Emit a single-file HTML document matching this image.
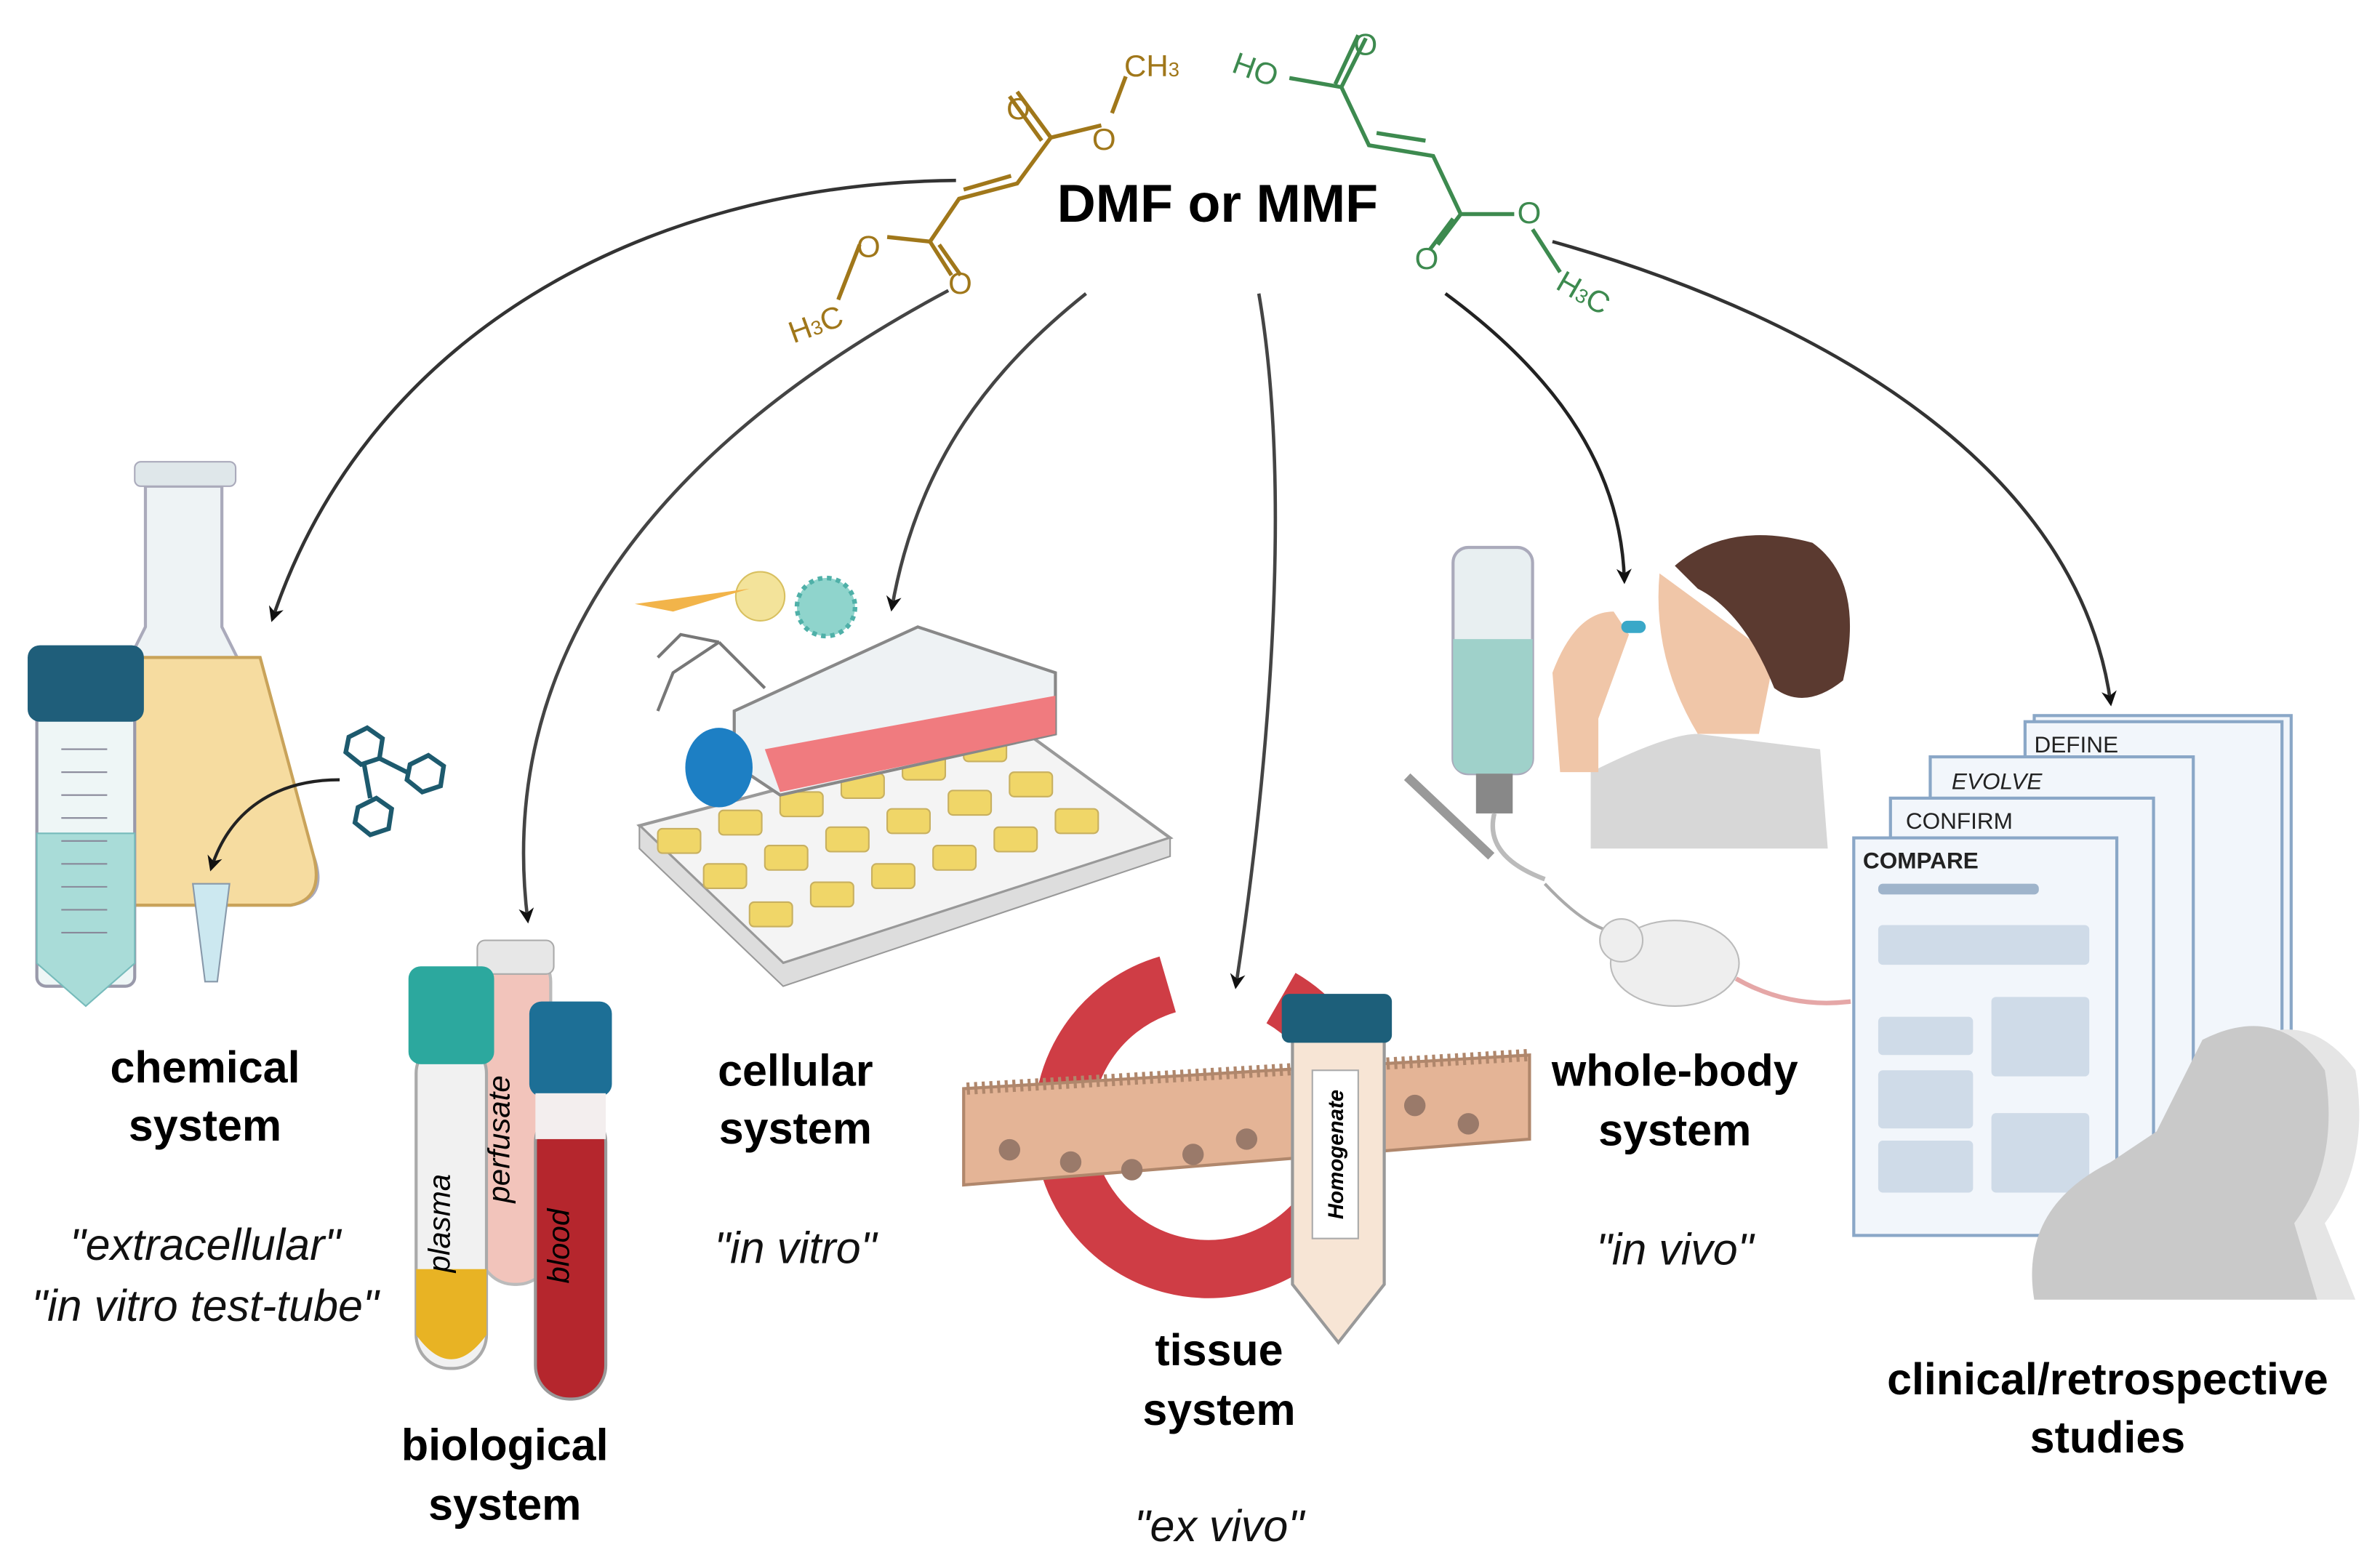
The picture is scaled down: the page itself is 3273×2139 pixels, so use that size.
<!DOCTYPE html>
<html><head><meta charset="utf-8"><style>
html,body{margin:0;padding:0;background:#fff;}
svg{display:block;}
text{font-family:"Liberation Sans",Arial,sans-serif;}
.lab{font-weight:bold;font-size:29px;fill:#000;text-anchor:middle;}
.it{font-style:italic;font-size:29px;fill:#111;text-anchor:middle;}
</style></head><body>
<svg width="3273" height="2139" viewBox="0 0 1556 1017" xmlns="http://www.w3.org/2000/svg">
<defs>
<marker id="ah" markerWidth="10" markerHeight="10" refX="8" refY="5" orient="auto" markerUnits="userSpaceOnUse">
<path d="M0,0 L10,5 L0,10 L3,5 Z" fill="#111"/></marker>
</defs>
<g fill="none" stroke-width="2.2" marker-end="url(#ah)">
<path d="M625,118 C420,120 240,220 178,405" stroke="#333"/>
<path d="M620,190 C470,270 320,400 345,602" stroke="#444"/>
<path d="M710,192 C650,240 600,300 583,398" stroke="#444"/>
<path d="M823,192 C845,320 830,500 808,645" stroke="#444"/>
<path d="M945,192 C1010,240 1060,300 1062,380" stroke="#222"/>
<path d="M1015,158 C1200,210 1360,310 1380,460" stroke="#333"/>
</g>
<g stroke="#a0771a" stroke-width="2.6" fill="none">
<path d="M720,82 L687,90 L665,60 M681,92 L660,63"/>
<path d="M687,90 L665,120 L627,130 L608,158 L580,155"/>
<path d="M661,115 L630,124"/>
<path d="M608,158 L622,180 M614,160 L628,180"/>
<path d="M727,74 L736,50 M562,160 L548,196"/>
</g>
<g fill="#a0771a" font-size="20">
<text x="714" y="98">O</text><text x="658" y="78">O</text>
<text x="735" y="50">CH<tspan font-size="13">3</tspan></text>
<text x="560" y="168">O</text><text x="620" y="192">O</text>
<text x="515" y="220" transform="rotate(-20 530 212)">H<tspan font-size="13">3</tspan>C</text>
</g>
<g stroke="#3d8a4f" stroke-width="2.6" fill="none">
<path d="M843,51 L877,57 L893,25 M873,55 L888,23"/>
<path d="M877,57 L895,95 L937,102 L955,140 L990,140"/>
<path d="M900,87 L932,92"/>
<path d="M955,140 L940,160 M950,143 L935,163"/>
<path d="M1002,150 L1020,178"/>
</g>
<g fill="#3d8a4f" font-size="20">
<text x="806" y="52" transform="rotate(20 820 45)">HO</text><text x="885" y="36">O</text>
<text x="992" y="146">O</text><text x="925" y="176">O</text>
<text x="1018" y="198" transform="rotate(30 1035 190)">H<tspan font-size="13">3</tspan>C</text>
</g>
<text x="796" y="145" font-size="35" font-weight="bold" text-anchor="middle">DMF or MMF</text>

<path d="M95,318 L95,410 L80,440 L40,560 Q35,590 70,592 L190,592 Q215,588 205,560 L160,440 L145,410 L145,318 Z" fill="#eef3f5" stroke="#aab" stroke-width="2"/>
<path d="M72,430 L170,430 L205,560 Q212,588 190,592 L70,592 Q36,590 42,560 Z" fill="#f6dca0" stroke="#c9a35a" stroke-width="2"/>
<rect x="88" y="302" width="66" height="16" rx="4" fill="#dfe7ea" stroke="#aab"/>
<rect x="24" y="445" width="64" height="200" rx="6" fill="#eef6f6" stroke="#99a" stroke-width="2"/>
<path d="M24,545 L88,545 L88,630 L56,658 L24,630 Z" fill="#a9dcd8" stroke="#7bb" />
<rect x="18" y="422" width="76" height="50" rx="8" fill="#1f5e7a"/>
<g stroke="#889" stroke-width="1">
<path d="M40,490h30M40,505h30M40,520h30M40,535h30M40,550h30M40,565h30M40,580h30M40,595h30M40,610h30"/></g>
<path d="M126,578 L150,578 L142,642 L134,642 Z" fill="#cce8f0" stroke="#89a"/>
<path d="M222,510 C180,510 150,530 138,568" fill="none" stroke="#222" stroke-width="2" marker-end="url(#ah)"/>
<g stroke="#1d5a6e" stroke-width="3" fill="none">
<polygon points="228,482 240,476 250,483 248,496 236,500 226,492"/>
<polygon points="268,500 280,494 290,501 288,514 276,518 266,510"/>
<polygon points="234,528 246,522 256,529 254,542 242,546 232,538"/>
<path d="M248,496 L266,505 M242,522 L238,500"/>
</g>
<text class="lab" x="134" y="708">chemical</text>
<text class="lab" x="134" y="746">system</text>
<text class="it" x="134" y="824">"extracellular"</text>
<text class="it" x="134" y="864">"in vitro test-tube"</text>

<rect x="314" y="620" width="46" height="220" rx="22" fill="#f2c4bb" stroke="#bbb" stroke-width="2"/>
<rect x="312" y="615" width="50" height="22" rx="5" fill="#e7e7e7" stroke="#aaa"/>
<rect x="272" y="680" width="46" height="215" rx="22" fill="#f1f1f1" stroke="#aaa" stroke-width="2"/>
<path d="M272,830 L318,830 L318,873 Q295,905 272,873 Z" fill="#e8b324"/>
<rect x="267" y="632" width="56" height="64" rx="8" fill="#2ca89e"/>
<rect x="350" y="725" width="46" height="190" rx="22" fill="#b5262d" stroke="#999" stroke-width="2"/>
<rect x="346" y="655" width="54" height="62" rx="8" fill="#1d6f96"/>
<rect x="350" y="715" width="46" height="30" fill="#f3eeee"/>
<text x="294" y="800" font-size="20" font-style="italic" transform="rotate(-90 294 800)" text-anchor="middle">plasma</text>
<text x="333" y="745" font-size="20" font-style="italic" transform="rotate(-90 333 745)" text-anchor="middle">perfusate</text>
<text x="372" y="815" font-size="20" font-style="italic" transform="rotate(-90 372 815)" text-anchor="middle">blood</text>
<text class="lab" x="330" y="955">biological</text>
<text class="lab" x="330" y="994">system</text>

<path d="M418,540 L665,475 L765,548 L512,630 Z" fill="#f4f4f4" stroke="#999" stroke-width="2"/>
<path d="M418,540 L512,630 L765,548 L765,560 L512,645 L418,555 Z" fill="#ddd" stroke="#999"/>
<g fill="#f0d668" stroke="#c8b060">
<rect x="430" y="542" width="28" height="16" rx="3"/><rect x="460" y="565" width="28" height="16" rx="3"/><rect x="490" y="590" width="28" height="16" rx="3"/>
<rect x="470" y="530" width="28" height="16" rx="3"/><rect x="500" y="553" width="28" height="16" rx="3"/><rect x="530" y="577" width="28" height="16" rx="3"/>
<rect x="510" y="518" width="28" height="16" rx="3"/><rect x="540" y="541" width="28" height="16" rx="3"/><rect x="570" y="565" width="28" height="16" rx="3"/>
<rect x="550" y="506" width="28" height="16" rx="3"/><rect x="580" y="529" width="28" height="16" rx="3"/><rect x="610" y="553" width="28" height="16" rx="3"/>
<rect x="590" y="494" width="28" height="16" rx="3"/><rect x="620" y="517" width="28" height="16" rx="3"/><rect x="650" y="541" width="28" height="16" rx="3"/>
<rect x="630" y="482" width="28" height="16" rx="3"/><rect x="660" y="505" width="28" height="16" rx="3"/><rect x="690" y="529" width="28" height="16" rx="3"/>
</g>
<path d="M480,465 L600,410 L690,440 L690,480 L510,520 L480,500 Z" fill="#eef2f4" stroke="#888" stroke-width="2"/>
<path d="M500,490 L690,455 L690,480 L510,518 Z" fill="#f07b7f"/>
<ellipse cx="470" cy="502" rx="22" ry="26" fill="#1d7fc4"/>
<circle cx="497" cy="390" r="16" fill="#f3e39a" stroke="#d8c060"/>
<circle cx="540" cy="397" r="19" fill="#8fd4cc" stroke="#4fb0a8" stroke-width="3" stroke-dasharray="3 3"/>
<path d="M415,395 L490,385 L440,400 Z" fill="#f2b44a"/>
<path d="M470,420 L440,440 L430,465 M470,420 L500,450 M470,420 L445,415 L430,430" fill="none" stroke="#777" stroke-width="2"/>
<text class="lab" x="520" y="710">cellular</text>
<text class="lab" x="520" y="748">system</text>
<text class="it" x="520" y="826">"in vitro"</text>

<circle cx="790" cy="735" r="95" fill="none" stroke="#cf3d45" stroke-width="38" stroke-dasharray="520 80" transform="rotate(-60 790 735)"/>
<path d="M630,712 L1000,690 L1000,745 L630,775 Z" fill="#e4b496" stroke="#b0876c" stroke-width="2"/>
<path d="M632,712 L1000,690" stroke="#b0876c" stroke-width="8" stroke-dasharray="2 3"/>
<g fill="#9a7a6a"><circle cx="660" cy="752" r="7"/><circle cx="700" cy="760" r="7"/><circle cx="740" cy="765" r="7"/><circle cx="780" cy="755" r="7"/><circle cx="815" cy="745" r="7"/><circle cx="925" cy="723" r="7"/><circle cx="960" cy="735" r="7"/></g>
<path d="M845,670 L905,670 L905,840 L875,878 L845,840 Z" fill="#f7e5d5" stroke="#999" stroke-width="2"/>
<rect x="838" y="650" width="72" height="32" rx="5" fill="#1d5f7a"/>
<rect x="858" y="700" width="30" height="110" fill="#fff" stroke="#aaa"/>
<text x="878" y="755" font-size="14" font-weight="bold" font-style="italic" transform="rotate(-90 878 755)" text-anchor="middle">Homogenate</text>
<text class="lab" x="797" y="893">tissue</text>
<text class="lab" x="797" y="932">system</text>
<text class="it" x="797" y="1008">"ex vivo"</text>

<rect x="950" y="358" width="52" height="148" rx="10" fill="#e8eff1" stroke="#aab" stroke-width="2"/>
<path d="M950,418 L1002,418 L1002,496 Q1002,506 990,506 L962,506 Q950,506 950,496 Z" fill="#9fd1ca"/>
<rect x="965" y="506" width="24" height="26" fill="#888"/>
<path d="M977,532 Q970,560 1010,575" fill="none" stroke="#bbb" stroke-width="3"/>
<path d="M920,508 L975,560" stroke="#999" stroke-width="6"/>
<path d="M1010,578 Q1040,610 1060,610" fill="none" stroke="#aaa" stroke-width="2"/>
<ellipse cx="1095" cy="630" rx="42" ry="28" fill="#eee" stroke="#bbb"/>
<circle cx="1060" cy="615" r="14" fill="#eee" stroke="#bbb"/>
<path d="M1135,640 Q1170,660 1210,655" fill="none" stroke="#e5a7a7" stroke-width="3"/>
<path d="M1040,555 L1040,505 Q1090,480 1110,480 L1190,490 L1195,555 Z" fill="#d7d7d7"/>
<path d="M1085,375 Q1080,430 1110,480 L1150,480 L1160,430 Z" fill="#f0c6a8"/>
<path d="M1095,370 Q1130,340 1185,355 Q1220,380 1205,445 Q1180,465 1160,450 Q1140,400 1110,385 Z" fill="#5b3a30"/>
<path d="M1015,440 Q1030,400 1055,400 L1065,415 L1045,470 L1045,505 L1020,505 Z" fill="#f0c6a8"/>
<rect x="1060" y="406" width="16" height="8" rx="4" fill="#3aa8c8"/>
<text class="lab" x="1095" y="710">whole-body</text>
<text class="lab" x="1095" y="749">system</text>
<text class="it" x="1095" y="827">"in vivo"</text>

<g stroke="#8aa7c7" stroke-width="2" fill="#f2f6fb">
<rect x="1330" y="468" width="168" height="295"/>
<rect x="1324" y="472" width="168" height="295"/>
<rect x="1262" y="495" width="172" height="295"/>
<rect x="1236" y="522" width="172" height="265"/>
<rect x="1212" y="548" width="172" height="260"/>
</g>
<g font-size="15" fill="#222">
<text x="1330" y="492">DEFINE</text>
<text x="1276" y="516" font-style="italic">EVOLVE</text>
<text x="1246" y="542">CONFIRM</text>
<text x="1218" y="568" font-weight="bold">COMPARE</text>
</g>
<g fill="#cfdbe8">
<rect x="1228" y="578" width="105" height="7" rx="3" fill="#9fb4cb"/>
<rect x="1228" y="605" width="138" height="26" rx="3"/>
<rect x="1228" y="665" width="62" height="25" rx="3"/><rect x="1302" y="652" width="64" height="52" rx="3"/>
<rect x="1228" y="700" width="62" height="38" rx="3"/><rect x="1228" y="746" width="62" height="34" rx="3"/>
<rect x="1302" y="728" width="64" height="52" rx="3"/>
</g>
<path d="M1470,680 Q1510,660 1540,700 Q1550,760 1520,800 L1540,850 L1400,850 Z" fill="#e5e5e5"/>
<path d="M1440,680 Q1490,655 1520,700 Q1530,760 1500,800 L1515,850 L1330,850 Q1320,790 1380,760 L1410,740 Z" fill="#c9c9c9"/>
<text class="lab" x="1378" y="912">clinical/retrospective</text>
<text class="lab" x="1378" y="950">studies</text>
</svg>
</body></html>
